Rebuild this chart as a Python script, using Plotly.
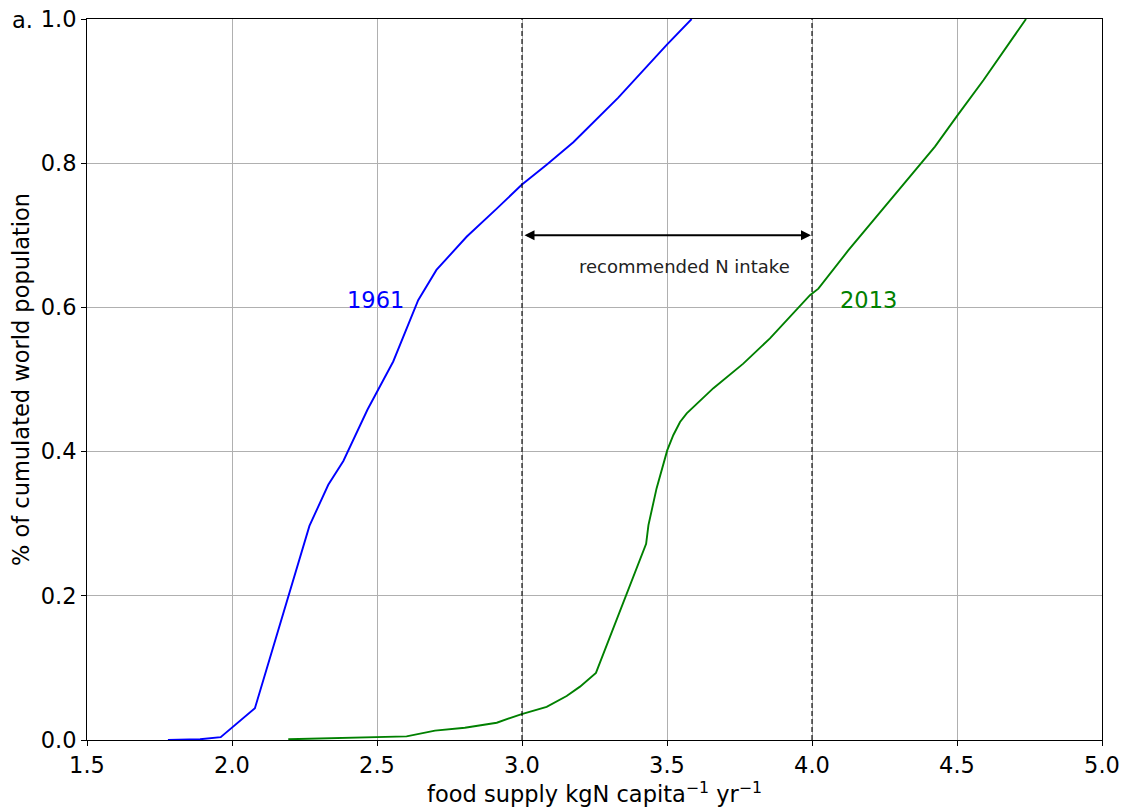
import plotly.graph_objects as go

# 1961 curve
x_1961 = [1.779, 1.89, 1.961, 2.079, 2.267, 2.332, 2.384, 2.467, 2.556, 2.642, 2.705, 2.740,
          2.809, 2.913, 2.999, 3.085, 3.177, 3.332, 3.499, 3.585]
y_1961 = [0.0, 0.001, 0.004, 0.044, 0.297, 0.354, 0.387, 0.458, 0.525, 0.610, 0.652, 0.668,
          0.698, 0.737, 0.770, 0.798, 0.829, 0.891, 0.964, 1.0]

# 2013 curve
x_2013 = [2.194, 2.499, 2.602, 2.700, 2.803, 2.913, 2.999, 3.085, 3.154, 3.200, 3.255, 3.428,
          3.436, 3.464, 3.501, 3.522, 3.545, 3.568, 3.660, 3.763, 3.855, 3.993, 4.022, 4.125,
          4.424, 4.501, 4.591, 4.738]
y_2013 = [0.001, 0.004, 0.005, 0.013, 0.017, 0.024, 0.036, 0.046, 0.061, 0.074, 0.093, 0.272,
          0.298, 0.349, 0.402, 0.423, 0.441, 0.453, 0.488, 0.522, 0.557, 0.617, 0.626, 0.679,
          0.823, 0.866, 0.915, 1.0]

intake_bounds = [3.0, 4.0]
x_ticks = [1.5, 2.0, 2.5, 3.0, 3.5, 4.0, 4.5, 5.0]
y_ticks = [0.0, 0.2, 0.4, 0.6, 0.8, 1.0]

FONT = "DejaVu Sans"
FS = 22.5

fig = go.Figure()
fig.add_trace(go.Scatter(x=x_1961, y=y_1961, mode="lines",
                         line=dict(color="#0000ff", width=1.9), showlegend=False))
fig.add_trace(go.Scatter(x=x_2013, y=y_2013, mode="lines",
                         line=dict(color="#008000", width=1.9), showlegend=False))

for xb in intake_bounds:
    fig.add_shape(type="line", x0=xb, x1=xb, y0=0, y1=1, xref="x", yref="y",
                  line=dict(color="black", width=1.1, dash="5px,3px"))

# double-headed arrow
fig.add_annotation(x=intake_bounds[1], y=0.7, ax=intake_bounds[0], ay=0.7,
                   xref="x", yref="y", axref="x", ayref="y", text="",
                   showarrow=True, arrowhead=2, arrowside="end+start",
                   arrowsize=1, arrowwidth=2, arrowcolor="black", standoff=1, startstandoff=1)
fig.add_annotation(x=3.188, y=0.657, xref="x", yref="y", text="recommended N intake",
                   showarrow=False, xanchor="left", yanchor="middle",
                   font=dict(family=FONT, size=18, color="#222222"))
fig.add_annotation(x=2.39, y=0.61, xref="x", yref="y", text="1961",
                   showarrow=False, xanchor="left", yanchor="middle",
                   font=dict(family=FONT, size=FS, color="#0000ff"))
fig.add_annotation(x=4.09, y=0.61, xref="x", yref="y", text="2013",
                   showarrow=False, xanchor="left", yanchor="middle",
                   font=dict(family=FONT, size=FS, color="#008000"))
fig.add_annotation(x=-0.076, y=0.998, xref="paper", yref="paper", text="a.",
                   showarrow=False, xanchor="left", yanchor="middle",
                   font=dict(family=FONT, size=FS, color="black"))

axis_common = dict(showgrid=True, gridcolor="#b0b0b0", gridwidth=1,
                   showline=True, linecolor="black", linewidth=1, mirror=True,
                   ticks="outside", ticklen=5, tickwidth=1, tickcolor="black",
                   tickfont=dict(family=FONT, size=FS, color="black"),
                   zeroline=False, tickformat=".1f", ticklabeloverflow="allow")

fig.update_xaxes(range=[1.5, 5.0], tickvals=x_ticks, **axis_common,
                 title=dict(text="food supply kgN capita<sup>−1</sup> yr<sup>−1</sup>",
                            font=dict(family=FONT, size=FS, color="black"), standoff=0))
fig.update_yaxes(range=[0.0, 1.0], tickvals=y_ticks, **axis_common,
                 title=dict(text="% of cumulated world population",
                            font=dict(family=FONT, size=FS, color="black"), standoff=8))

fig.update_layout(width=1128, height=808, plot_bgcolor="white", paper_bgcolor="white",
                  margin=dict(l=79, r=34, t=11, b=76, autoexpand=False), font=dict(family=FONT))

fig.write_html("out.html")
